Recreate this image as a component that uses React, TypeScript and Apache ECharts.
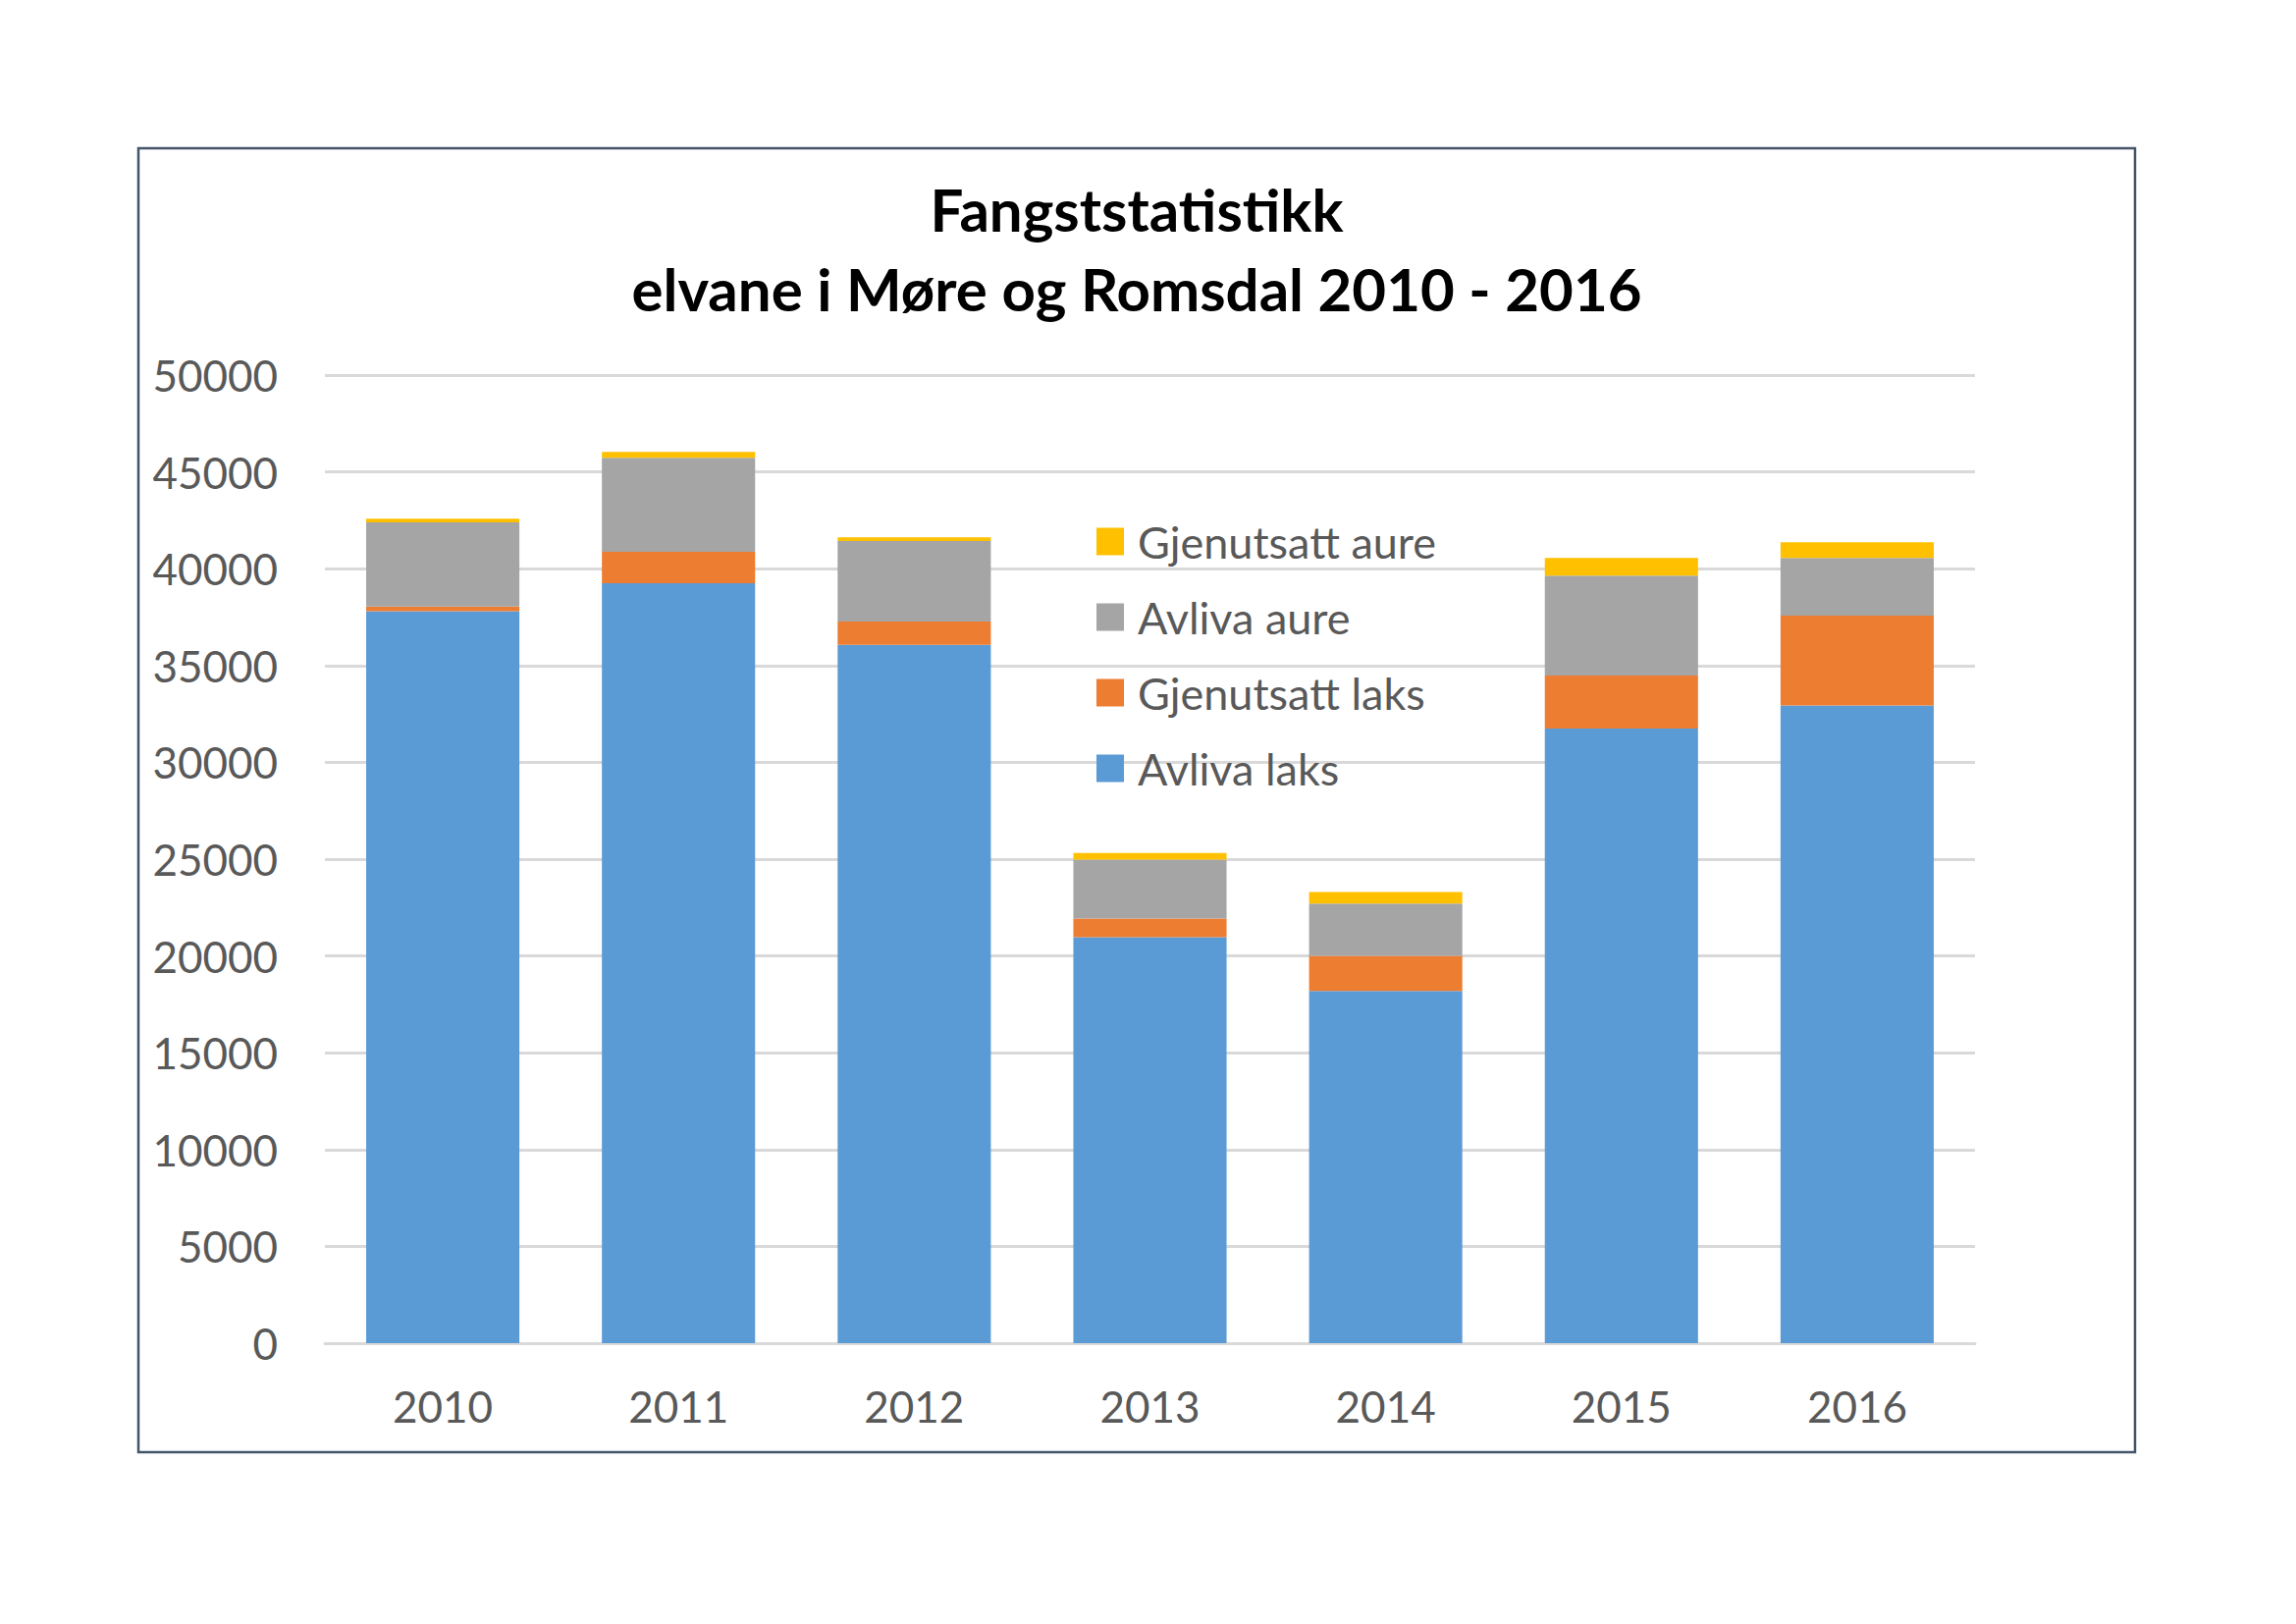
import React, { useEffect, useRef } from "react";
import * as echarts from "echarts";

const categories = ["2010", "2011", "2012", "2013", "2014", "2015", "2016"];
const avlivaLaks = [37800, 39250, 36070, 20970, 18190, 31750, 32930];
const gjenutsattLaks = [240, 1620, 1200, 960, 1820, 2730, 4640];
const avlivaAure = [4350, 4860, 4165, 3040, 2700, 5160, 2990];
const gjenutsattAure = [200, 300, 190, 350, 590, 910, 810];
const legendOrder = ["Gjenutsatt aure", "Avliva aure", "Gjenutsatt laks", "Avliva laks"];
const titleLines = ["Fangststatistikk", "elvane i Møre og Romsdal 2010 - 2016"];

const FONT = "Lato, 'Noto Sans', sans-serif";
const TEXT_COLOR = "#595959";
const GRID_COLOR = "#D9D9D9";

export default function App() {
  const ref = useRef<HTMLDivElement>(null);
  useEffect(() => {
    if (!ref.current) return;
    const chart = echarts.init(ref.current, undefined, { renderer: "svg" });
    const mk = (name: string, data: number[], color: string) => ({
      name,
      type: "bar",
      stack: "total",
      data,
      barCategoryGap: "35%",
      itemStyle: { color },
      emphasis: { disabled: true },
    });
    chart.setOption({
      animation: false,
      backgroundColor: "#ffffff",
      textStyle: { fontFamily: FONT },
      grid: { left: 331, right: 327, top: 382, bottom: 286, containLabel: false },
      legend: {
        data: legendOrder,
        orient: "vertical",
        left: 1117,
        top: 529,
        itemWidth: 28,
        itemHeight: 28,
        itemGap: 32,
        icon: "rect",
        selectedMode: false,
        padding: 0,
        textStyle: { fontFamily: FONT, fontSize: 45, color: TEXT_COLOR, padding: [0, 0, 0, 9] },
      },
      xAxis: {
        type: "category",
        data: categories,
        axisTick: { show: false },
        axisLine: { show: true, lineStyle: { color: GRID_COLOR, width: 3 } },
        axisLabel: {
          fontFamily: FONT,
          fontSize: 44,
          color: TEXT_COLOR,
          margin: 64,
          verticalAlign: "middle",
        },
      },
      yAxis: {
        type: "value",
        min: 0,
        max: 50000,
        interval: 5000,
        axisLine: { show: false },
        axisTick: { show: false },
        splitLine: { lineStyle: { color: GRID_COLOR, width: 3 } },
        axisLabel: {
          fontFamily: FONT,
          fontSize: 44,
          color: TEXT_COLOR,
          margin: 48,
          formatter: (v: number) => String(v),
        },
      },
      series: [
        mk("Avliva laks", avlivaLaks, "#5B9BD5"),
        mk("Gjenutsatt laks", gjenutsattLaks, "#ED7D31"),
        mk("Avliva aure", avlivaAure, "#A5A5A5"),
        mk("Gjenutsatt aure", gjenutsattAure, "#FFC000"),
      ],
      graphic: [
        {
          type: "rect",
          shape: { x: 141, y: 151, width: 2034, height: 1328 },
          style: { fill: "none", stroke: "#44546A", lineWidth: 2.5 },
          silent: true,
          z: 100,
        },
        {
          type: "text",
          x: 1158,
          y: 172,
          style: {
            text: titleLines.join("\n"),
            fontFamily: FONT,
            fontWeight: "bold",
            fontSize: 60,
            lineHeight: 81,
            fill: "#000000",
            align: "center",
            verticalAlign: "top",
          },
          silent: true,
        },
      ],
    });
    return () => chart.dispose();
  }, []);
  return (
    <div
      ref={ref}
      style={{ position: "fixed", left: 0, top: 0, width: 2339, height: 1654, background: "#fff" }}
    />
  );
}
